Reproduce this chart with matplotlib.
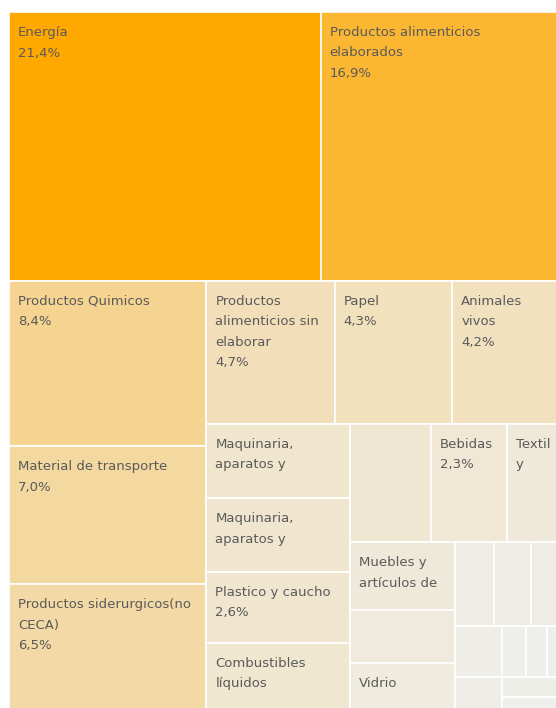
import matplotlib
matplotlib.use("Agg")
import matplotlib.pyplot as plt
from matplotlib.patches import Rectangle
from matplotlib.colors import LinearSegmentedColormap, Normalize

# share of total, sorted from large to small (unlabelled cells read from their area)
values = [21.44, 16.94, 8.36, 6.96, 6.46, 4.7, 4.3, 4.2,
          2.75, 2.7, 2.62, 2.55, 2.45, 2.3, 1.83,
          1.8, 1.43, 1.3, 0.84, 0.8, 0.76, 0.62, 0.43,
          0.31, 0.28, 0.26, 0.33, 0.24]
names = ["Energía", "Productos alimenticios\nelaborados", "Productos Quimicos",
         "Material de transporte", "Productos siderurgicos(no\nCECA)",
         "Productos\nalimenticios sin\nelaborar", "Papel", "Animales\nvivos",
         "Maquinaria,\naparatos y", "Maquinaria,\naparatos y", "Plastico y caucho",
         "Combustibles\nlíquidos", "", "Bebidas", "Textil\ny",
         "Muebles y\nartículos de", "", "Vidrio"] + [""] * 10
show_pct = [True, True, True, True, True, True, True, True,
            False, False, True, False, False, True, False,
            False, False, False] + [False] * 10
# how many cells go in each strip of the squarified layout
strips = [2, 3, 3, 4, 3, 3, 3, 2, 3, 2]


def layout(vals, x, y, w, h, strips):
    scale = w * h / sum(vals)
    rects = []
    i = 0
    for n in strips:
        chunk = vals[i:i + n]
        area = sum(chunk) * scale
        if w <= h:
            sh = area / w
            cx = x
            for v in chunk:
                cw = v * scale / sh
                rects.append((cx, y, cw, sh))
                cx += cw
            y += sh
            h -= sh
        else:
            sw = area / h
            cy = y
            for v in chunk:
                ch = v * scale / sw
                rects.append((x, cy, sw, ch))
                cy += ch
            x += sw
            w -= sw
        i += n
    return rects


cmap = LinearSegmentedColormap.from_list("og", ["#EEEEEA", "#FFA800"])
norm = Normalize(vmin=min(values), vmax=max(values))

fig = plt.figure(figsize=(5.56, 7.08), dpi=100)
ax = fig.add_axes([0, 0, 1, 1])
ax.set_xlim(0, 556)
ax.set_ylim(708, 0)
ax.axis("off")

rects = layout(values, 9, 12, 558, 700, strips)
for (x, y, w, h), v, name, pct in zip(rects, values, names, show_pct):
    ax.add_patch(Rectangle((x, y), w, h, facecolor=cmap(norm(v)),
                           edgecolor="white", linewidth=1.2))
    label = name
    if pct:
        label += "\n" + f"{v:.1f}%".replace(".", ",")
    if label:
        ax.text(x + 9, y + 14, label, ha="left", va="top", fontsize=9.5,
                family="DejaVu Sans", color="#5a5a5a", linespacing=1.75,
                clip_on=True)

fig.savefig("out.png", dpi=100)
